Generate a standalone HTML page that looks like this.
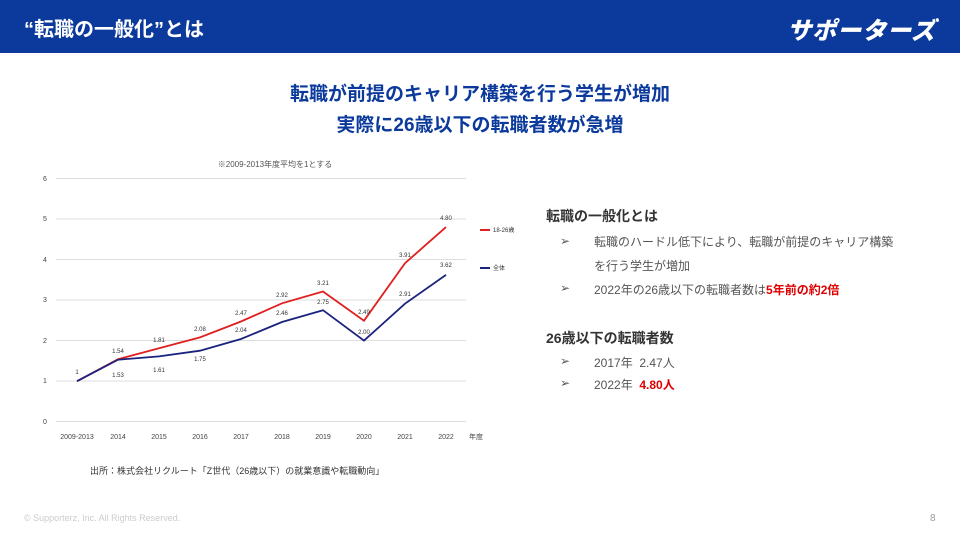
<!DOCTYPE html>
<html><head><meta charset="utf-8"><style>
body{margin:0;width:960px;height:540px;background:#fff;position:relative;overflow:hidden;font-family:"Liberation Sans","Noto Sans CJK JP",sans-serif}
.hdr{position:absolute;left:0;top:0;width:960px;height:53px;background:#0b3a9c}
.hdr .t{position:absolute;left:24px;top:13px;color:#fff;font-size:20px;font-weight:bold}
.hdr .l{position:absolute;right:24px;top:11px;color:#fff;font-size:24px;font-weight:900;font-style:italic;letter-spacing:1px}
.title{position:absolute;left:0;width:960px;text-align:center;color:#0b3a9c;font-size:19px;font-weight:bold}
.r{position:absolute;color:#333}
</style></head><body>
<div class="hdr"><div class="t">“転職の一般化”とは</div><div class="l">サポーターズ</div></div>
<div class="title" style="top:79px">転職が前提のキャリア構築を行う学生が増加</div>
<div class="title" style="top:110px">実際に26歳以下の転職者数が急増</div>
<svg style="position:absolute;left:0;top:0" width="960" height="540" font-family="Liberation Sans,Noto Sans CJK JP,sans-serif">
<text x="275" y="167" font-size="8" fill="#555" text-anchor="middle">※2009-2013年度平均を1とする</text>
<g stroke="#ddd" stroke-width="1">
<line x1="56" x2="466" y1="178.5" y2="178.5"/><line x1="56" x2="466" y1="219" y2="219"/><line x1="56" x2="466" y1="259.5" y2="259.5"/><line x1="56" x2="466" y1="300" y2="300"/><line x1="56" x2="466" y1="340.5" y2="340.5"/><line x1="56" x2="466" y1="381" y2="381"/><line x1="56" x2="466" y1="421.5" y2="421.5"/></g>
<g font-size="7" fill="#444" text-anchor="middle">
<text x="45" y="181">6</text><text x="45" y="221">5</text><text x="45" y="262">4</text><text x="45" y="302">3</text><text x="45" y="343">2</text><text x="45" y="383">1</text><text x="45" y="424">0</text>
<text x="77" y="439">2009-2013</text><text x="118" y="439">2014</text><text x="159" y="439">2015</text><text x="200" y="439">2016</text><text x="241" y="439">2017</text><text x="282" y="439">2018</text><text x="323" y="439">2019</text><text x="364" y="439">2020</text><text x="405" y="439">2021</text><text x="446" y="439">2022</text><text x="476" y="439">年度</text>
</g>
<polyline fill="none" stroke="#e02020" stroke-width="1.8" points="77,381.2 118,359.2 159,348.3 200,337.4 241,321.5 282,303.3 323,291.5 364,320.7 405,263.2 446,227.1"/>
<polyline fill="none" stroke="#1a237e" stroke-width="1.8" points="77,381.2 118,359.7 159,356.4 200,350.7 241,339 282,322 323,310.2 364,340.6 405,303.7 446,274.9"/>
<g font-size="6" fill="#333" text-anchor="middle">
<text x="77" y="374">1</text><text x="118" y="353">1.54</text><text x="159" y="342">1.81</text><text x="200" y="331">2.08</text><text x="241" y="315">2.47</text><text x="282" y="297">2.92</text><text x="323" y="285">3.21</text><text x="364" y="314">2.49</text><text x="405" y="257">3.91</text><text x="446" y="220">4.80</text>
<text x="118" y="377">1.53</text><text x="159" y="372">1.61</text><text x="200" y="361">1.75</text><text x="241" y="332">2.04</text><text x="282" y="315">2.46</text><text x="323" y="304">2.75</text><text x="364" y="334">2.00</text><text x="405" y="296">2.91</text><text x="446" y="267">3.62</text>
</g>
<line x1="480" x2="490" y1="230" y2="230" stroke="#e02020" stroke-width="2"/><text x="493" y="232" font-size="6" fill="#333">18-26歳</text>
<line x1="480" x2="490" y1="268" y2="268" stroke="#1a237e" stroke-width="2"/><text x="493" y="270" font-size="6" fill="#333">全体</text>
</svg>
<div class="r" style="left:90px;top:464px;font-size:9px">出所：株式会社リクルート「Z世代（26歳以下）の就業意識や転職動向」</div>
<div class="r" style="left:546px;top:206px;font-size:14px;font-weight:bold">転職の一般化とは</div>
<div class="r" style="left:560px;top:234px;font-size:12px;color:#555">➢</div>
<div class="r" style="left:594px;top:230px;font-size:12px;line-height:24px;color:#555">転職のハードル低下により、転職が前提のキャリア構築<br>を行う学生が増加</div>
<div class="r" style="left:560px;top:281px;font-size:12px;color:#555">➢</div>
<div class="r" style="left:594px;top:281px;font-size:12px;color:#555">2022年の26歳以下の転職者数は<b style="color:#e00000">5年前の約2倍</b></div>
<div class="r" style="left:546px;top:328px;font-size:14px;font-weight:bold">26歳以下の転職者数</div>
<div class="r" style="left:560px;top:354px;font-size:12px;color:#555">➢</div>
<div class="r" style="left:594px;top:354px;font-size:12px;color:#555">2017年&nbsp;&nbsp;2.47人</div>
<div class="r" style="left:560px;top:376px;font-size:12px;color:#555">➢</div>
<div class="r" style="left:594px;top:376px;font-size:12px;color:#555">2022年&nbsp;&nbsp;<b style="color:#e00000">4.80人</b></div>
<div class="r" style="left:24px;top:513px;font-size:9px;color:#ccc">© Supporterz, Inc. All Rights Reserved.</div>
<div class="r" style="left:930px;top:513px;font-size:10px;color:#999">8</div>
</body></html>
